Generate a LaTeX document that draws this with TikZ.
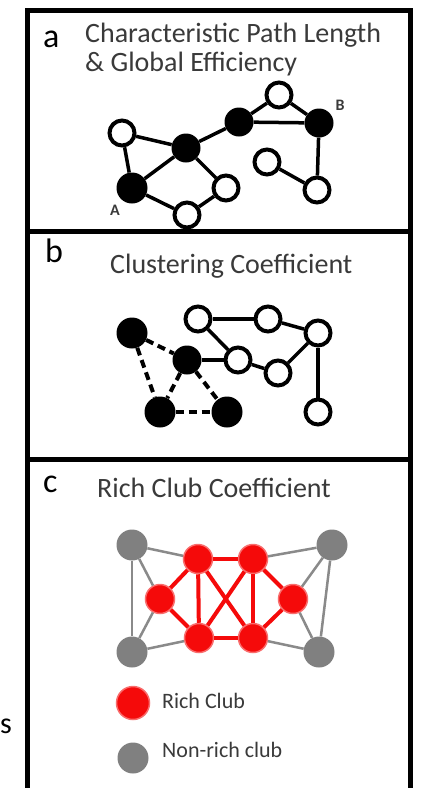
\documentclass[tikz,border=0pt]{standalone}
\usepackage{fontspec}
\setmainfont{Carlito}
\definecolor{txtgray}{HTML}{3A3A3A}
\definecolor{nodegray}{HTML}{808080}
\definecolor{edgegray}{HTML}{8A8A8A}
\definecolor{rcred}{HTML}{F50A0A}
\begin{document}
\begin{tikzpicture}[x=1pt,y=-1pt,
  wnode/.style={circle,draw=black,line width=4pt,fill=white,minimum size=25pt,inner sep=0pt},
  bnode/.style={circle,fill=black,minimum size=31pt,inner sep=0pt},
  gnode/.style={circle,fill=nodegray,minimum size=31pt,inner sep=0pt},
  rnode/.style={circle,fill=rcred,draw=rcred!60,line width=1.5pt,minimum size=29pt,inner sep=0pt},
  edge/.style={line width=3.5pt,black},
  dedge/.style={line width=4pt,black,dash pattern=on 8pt off 5pt},
  redge/.style={line width=4pt,rcred},
  gedge/.style={line width=2.5pt,edgegray},
  paneltag/.style={anchor=base west,font=\fontsize{34}{34}\selectfont,text=black,inner sep=0pt},
  ptitle/.style={anchor=base west,font=\fontsize{28}{28}\selectfont,text=txtgray,inner sep=0pt},
  legtext/.style={anchor=base west,font=\fontsize{22}{22}\selectfont,text=txtgray,inner sep=0pt},
  ptlabel/.style={font=\bfseries\fontsize{16}{16}\selectfont,text=txtgray,inner sep=0pt}]
\useasboundingbox (0,0) rectangle (421,788);
\fill[white] (0,0) rectangle (421,788);
% frame
\draw[line width=5pt] (27,790) -- (27,10) -- (410,10) -- (410,790);
\draw[line width=5pt] (27,231) -- (410,231);
\draw[line width=5pt] (27,459) -- (410,459);
\node[anchor=base west,font=\fontsize{30}{30}\selectfont,inner sep=0pt] (s) at (0,733) {s};
% ---------- panel a ----------
\node[paneltag] (ta) at (43,47) {a};
\node[ptitle] (ta1) at (85,42) {Characteristic Path Length};
\node[ptitle] (ta2) at (85,71) {\& Global Efficiency};
\node[wnode] (aw1) at (122,133) {};
\node[bnode] (aA) at (132,188) {};
\node[bnode,minimum size=29pt] (aC) at (186,148) {};
\node[wnode] (awb) at (187,215) {};
\node[wnode] (awr) at (226,188) {};
\node[bnode,minimum size=29pt] (aD) at (239,122) {};
\node[wnode] (awt) at (279,95) {};
\node[bnode,minimum size=29pt] (aB) at (319,123) {};
\node[wnode] (awm) at (267,162) {};
\node[wnode] (awl) at (317,190) {};
\node[ptlabel] (lA) at (115,210) {A};
\node[ptlabel] (lB) at (340,105) {B};
\draw[edge] (aw1) -- (aC);
\draw[edge] (aw1) -- (aA);
\draw[edge] (aA) -- (aC);
\draw[edge] (aA) -- (awb);
\draw[edge] (awb) -- (awr);
\draw[edge] (aC) -- (awr);
\draw[edge] (aC) -- (aD);
\draw[edge] (aD) -- (awt);
\draw[edge] (awt) -- (aB);
\draw[edge] (aD) -- (aB);
\draw[edge] (aB) -- (awl);
\draw[edge] (awm) -- (awl);
% ---------- panel b ----------
\node[paneltag] (tb) at (45,262) {b};
\node[ptitle] (tb1) at (110,273) {Clustering Coefficient};
\node[bnode] (bk1) at (132,333) {};
\node[bnode,minimum size=29pt] (bk2) at (187,360) {};
\node[bnode] (bk3) at (160,412) {};
\node[bnode] (bk4) at (227,412) {};
\node[wnode] (bw1) at (198,319) {};
\node[wnode] (bw2) at (268,319) {};
\node[wnode] (bw3) at (318,333) {};
\node[wnode] (bw4) at (238,360) {};
\node[wnode] (bw5) at (278,373) {};
\node[wnode] (bw6) at (318,412) {};
\draw[dedge] (bk1) -- (bk2);
\draw[dedge] (bk1) -- (bk3);
\draw[dedge] (bk2) -- (bk3);
\draw[dedge] (bk2) -- (bk4);
\draw[dedge] (bk3) -- (bk4);
\draw[edge] (bw1) -- (bw2);
\draw[edge] (bw2) -- (bw3);
\draw[edge] (bw1) -- (bw4);
\draw[edge] (bk2) -- (bw4);
\draw[edge] (bw4) -- (bw5);
\draw[edge] (bw5) -- (bw3);
\draw[edge] (bw3) -- (bw6);
% ---------- panel c ----------
\node[paneltag] (tc) at (43,492) {c};
\node[ptitle] (tc1) at (97,497) {Rich Club Coefficient};
\node[gnode] (g1) at (132,545) {};
\node[gnode] (g2) at (332,545) {};
\node[gnode] (g3) at (132,652) {};
\node[gnode] (g4) at (319,652) {};
\node[rnode] (r1) at (198,559) {};
\node[rnode] (r2) at (253,559) {};
\node[rnode] (r3) at (160,599) {};
\node[rnode] (r4) at (293,599) {};
\node[rnode] (r5) at (199,638) {};
\node[rnode] (r6) at (253,638) {};
\draw[gedge] (g1) -- (r1);
\draw[gedge] (g1) -- (g3);
\draw[gedge] (g1) -- (r3);
\draw[gedge] (g3) -- (r3);
\draw[gedge] (g3) -- (r5);
\draw[gedge] (g2) -- (r2);
\draw[gedge] (g2) -- (g4);
\draw[gedge] (g2) -- (r4);
\draw[gedge] (g4) -- (r4);
\draw[gedge] (g4) -- (r6);
\draw[redge] (r1) -- (r2);
\draw[redge] (r1) -- (r3);
\draw[redge] (r1) -- (r5);
\draw[redge] (r1) -- (r6);
\draw[redge] (r2) -- (r5);
\draw[redge] (r2) -- (r6);
\draw[redge] (r2) -- (r4);
\draw[redge] (r3) -- (r5);
\draw[redge] (r5) -- (r6);
\draw[redge] (r6) -- (r4);
% legend
\node[rnode,minimum size=33pt] (lr) at (133,703) {};
\node[legtext] (lrt) at (162,708) {Rich Club};
\node[gnode] (lg) at (133,758) {};
\node[legtext] (lgt) at (162,757) {Non-rich club};
\end{tikzpicture}
\end{document}
